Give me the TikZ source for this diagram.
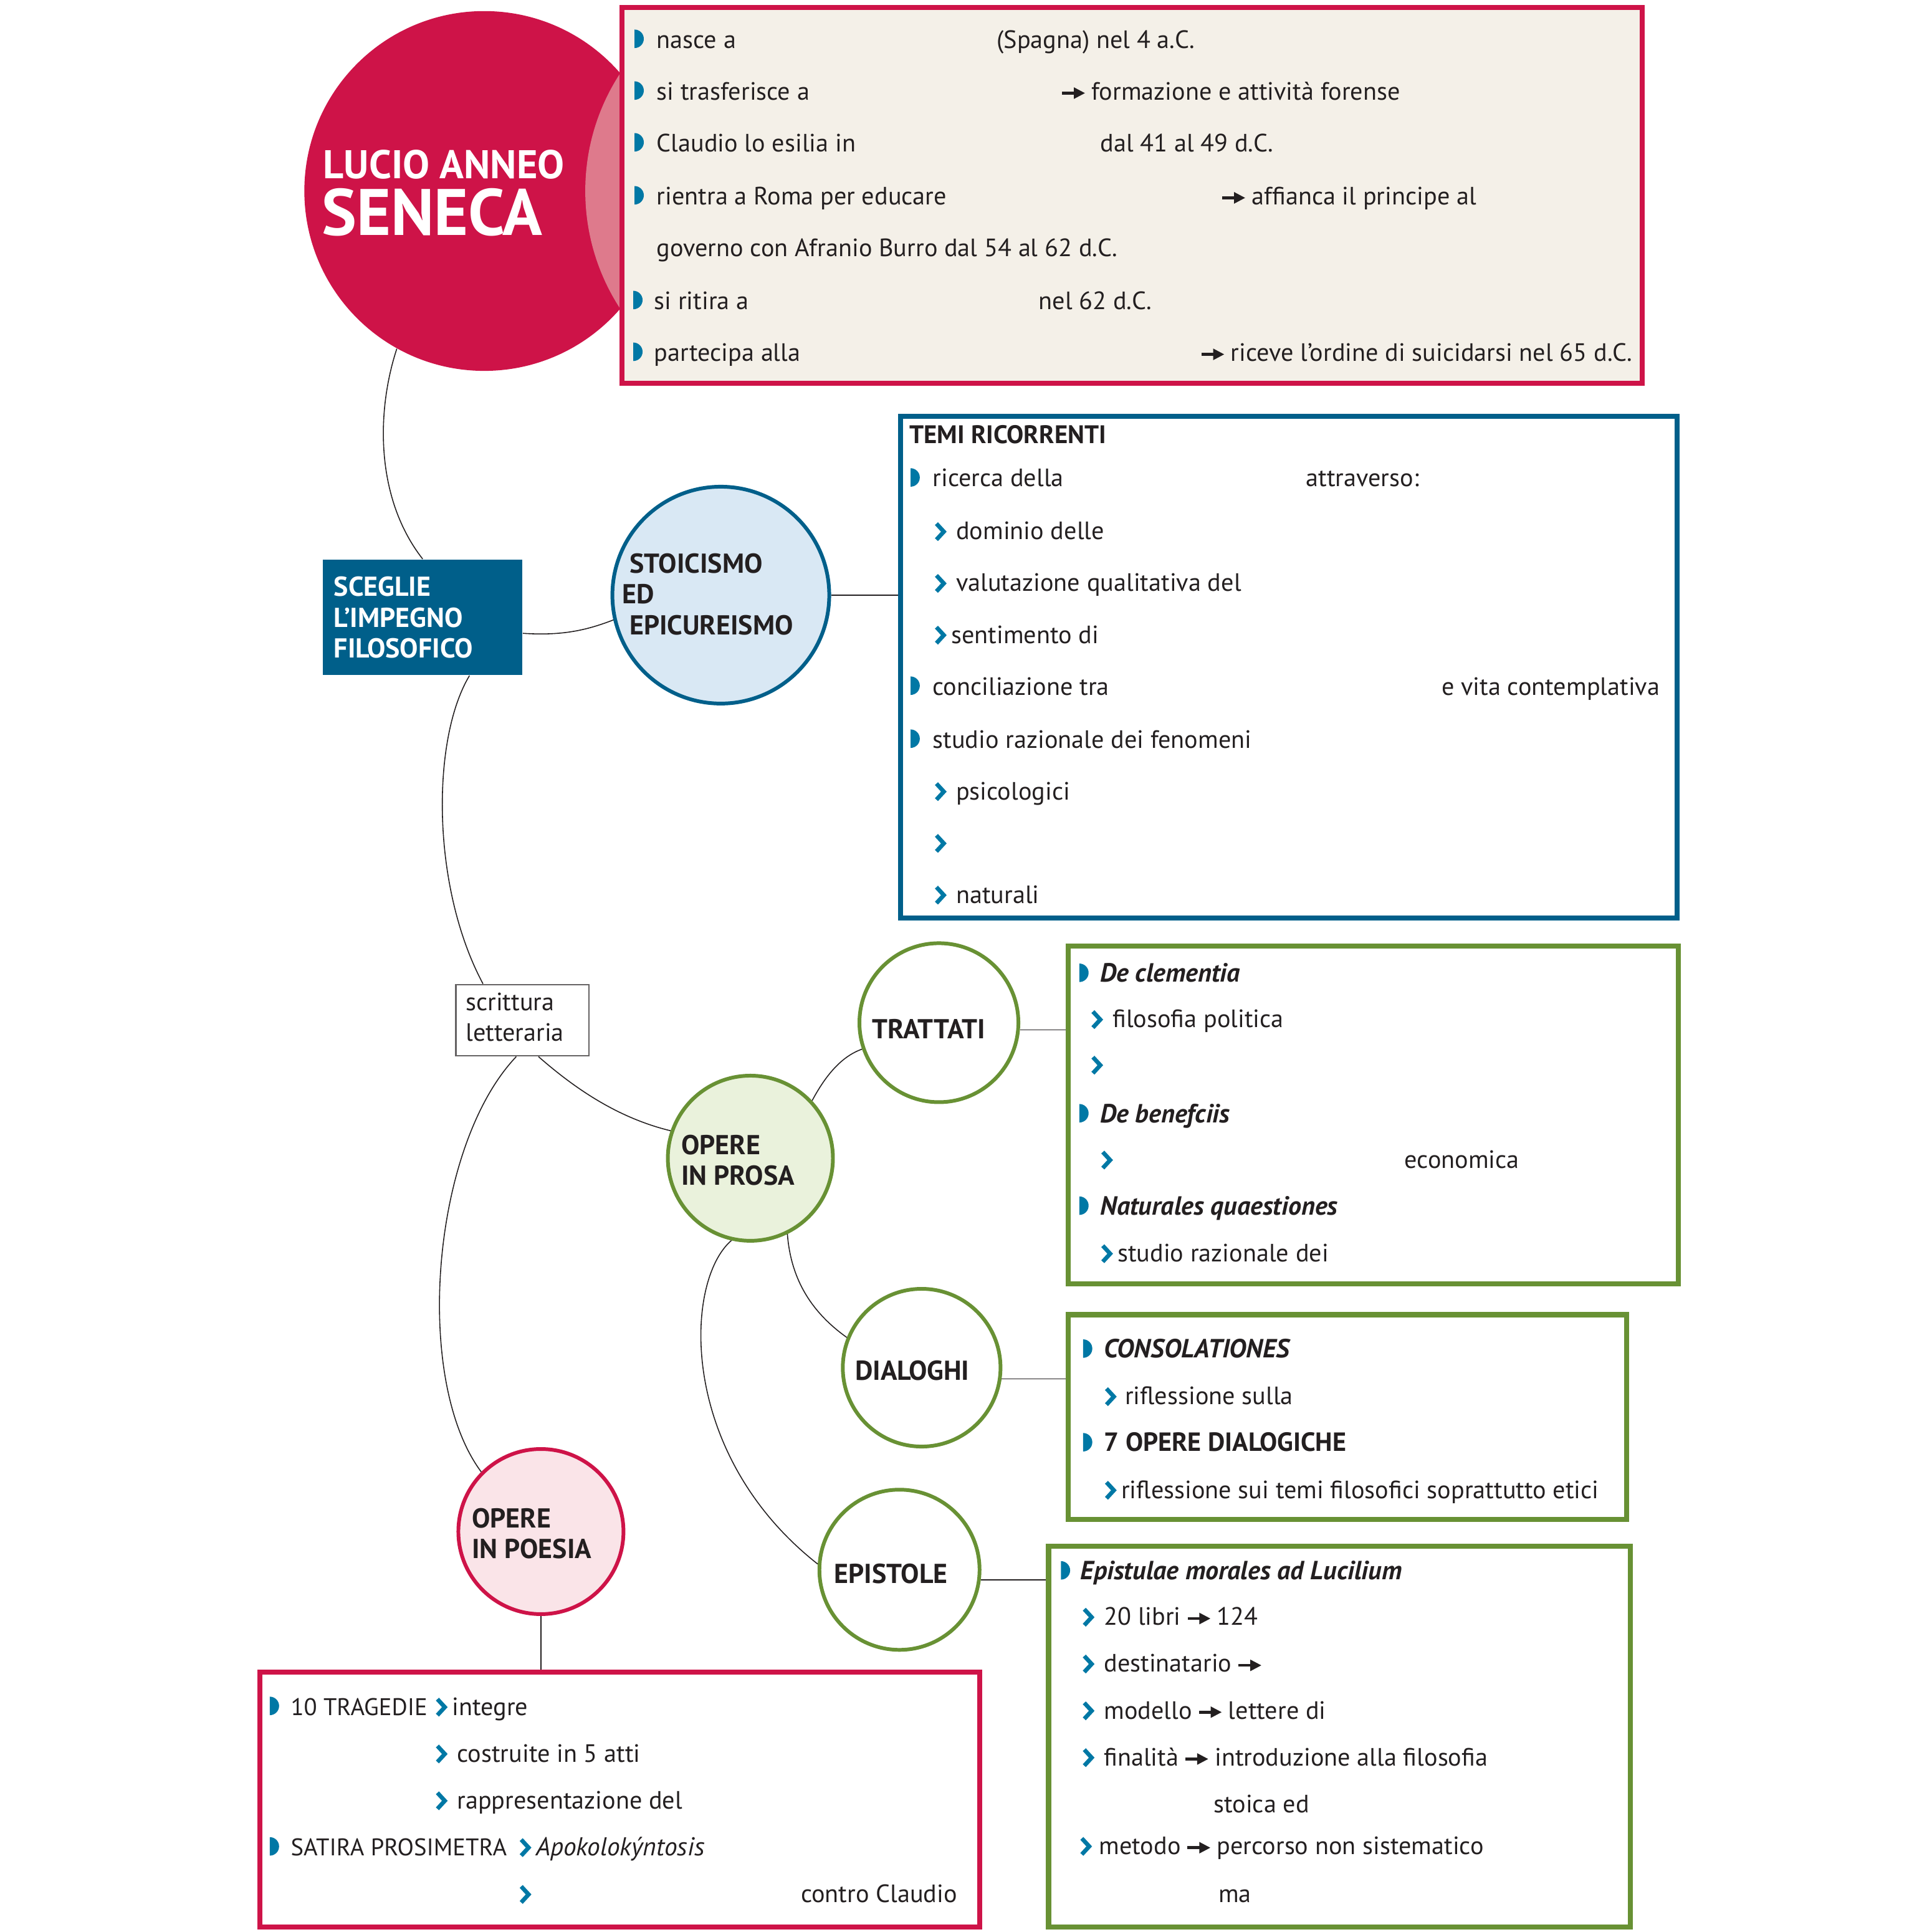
\documentclass[tikz,border=0pt]{standalone}
\usepackage{fontspec}
\setmainfont{PT Sans}
\usetikzlibrary{fit,calc}
\definecolor{crimson}{RGB}{206,19,72}
\definecolor{lens}{RGB}{222,122,140}
\definecolor{beige}{RGB}{244,240,232}
\definecolor{dblue}{RGB}{0,95,138}
\definecolor{bul}{RGB}{0,120,165}
\definecolor{lblue}{RGB}{217,232,244}
\definecolor{green}{RGB}{104,145,52}
\definecolor{lgreen}{RGB}{234,242,220}
\definecolor{lpink}{RGB}{250,228,232}
\definecolor{ink}{RGB}{35,31,32}
\def\U{0.01977cm}
\newcounter{tn}
\newcommand\mytx[4][]{\stepcounter{tn}\node[txt,#1] (t\arabic{tn}) at (#2,#3) {#4};}
\newcommand\hb[2]{\fill[bul] (#1,#2-15) arc[start angle=-90,end angle=90,x radius=7.5,y radius=7.5] -- cycle;}
\newcommand\chv[2]{\draw[bul,line width=1.9pt] (#1+1,#2-13) -- (#1+7,#2-6.5) -- (#1+1,#2);}
\newcommand\arr{\tikz[x=1pt,y=1pt,baseline=0pt]{\fill[ink] (0,2.4) rectangle (6.6,3.7); \fill[ink] (5.4,0.4) -- (10.4,3.05) -- (5.4,5.7) -- cycle;}}
\newcommand\bfb{\bfseries\fontsize{12}{14}\selectfont}
\newcommand\bfc{\bfseries\fontsize{12.5}{14}\selectfont}
\newcommand\caps{\fontsize{11}{14}\selectfont}
\begin{document}
\begin{tikzpicture}[x=0.01977cm,y=-0.01977cm,
 txt/.style={anchor=base west,inner sep=0pt,outer sep=0pt,font=\fontsize{11.45}{14}\selectfont,text=ink},
 bx/.style={inner sep=0pt,line width=2.3pt},
 circ/.style={circle,inner sep=0pt,line width=1.7pt},
 conn/.style={line width=0.45pt,draw=ink}]
\useasboundingbox (0,0) rectangle (1568,1568);

% ---------- Seneca ----------
\node[circle,inner sep=0pt,fill=crimson,minimum size=292*\U] (seneca) at (393,155) {};
\begin{scope}
\clip (393,155) circle[radius=146];
\fill[lens] (650,155) circle[radius=175];
\end{scope}
\node[bx,draw=crimson,fill=beige,fit={(505,6)(1333,311)}] (bio) {};
\node[anchor=base west,inner sep=0pt,text=white,font=\bfseries\fontsize{18.3}{19}\selectfont] (lucio) at (262,145) {LUCIO ANNEO};
\node[anchor=base west,inner sep=0pt,text=white,font=\bfseries\fontsize{30}{31}\selectfont] (senecat) at (261,191) {SENECA};

\hb{515}{39}\mytx{533}{39}{nasce a}\mytx{809}{39}{(Spagna) nel 4 a.C.}
\hb{515}{81}\mytx{533}{81}{si trasferisce a}\mytx{862}{81}{\arr\ formazione e attività forense}
\hb{515}{123}\mytx{533}{123}{Claudio lo esilia in}\mytx{893}{123}{dal 41 al 49 d.C.}
\hb{515}{166}\mytx{533}{166}{rientra a Roma per educare}\mytx{992}{166}{\arr\ affianca il principe al}
\mytx{533}{208}{governo con Afranio Burro dal 54 al 62 d.C.}
\hb{514}{251}\mytx{531}{251}{si ritira a}\mytx{843}{251}{nel 62 d.C.}
\hb{514}{293}\mytx{531}{293}{partecipa alla}\mytx{975}{293}{\arr\ riceve l’ordine di suicidarsi nel 65 d.C.}

% ---------- Sceglie ----------
\node[fill=dblue,inner sep=0pt,fit={(262,454)(424,548)}] (sceglie) {};
\mytx[text=white]{271}{484}{\bfc SCEGLIE}
\mytx[text=white]{271}{509}{\bfc L’IMPEGNO}
\mytx[text=white]{271}{534}{\bfc FILOSOFICO}

% ---------- Stoicismo ----------
\node[circ,draw=dblue,fill=lblue,minimum size=176*\U] (stoic) at (585,483) {};
\mytx{511}{465}{\bfc STOICISMO}
\mytx{505}{490}{\bfc ED}
\mytx{511}{515}{\bfc EPICUREISMO}

% ---------- Temi ----------
\node[bx,draw=dblue,fill=white,fit={(731,338)(1361,745)}] (temi) {};
\mytx{738}{360}{\bfseries\fontsize{11.6}{14}\selectfont TEMI RICORRENTI}
\hb{739}{395}\mytx{757}{395}{ricerca della}\mytx{1060}{395}{attraverso:}
\chv{759}{438}\mytx{776}{438}{dominio delle}
\chv{759}{480}\mytx{776}{480}{valutazione qualitativa del}
\chv{759}{522}\mytx{772}{522}{sentimento di}
\hb{739}{564}\mytx{757}{564}{conciliazione tra}\mytx{1170}{564}{e vita contemplativa}
\hb{739}{607}\mytx{757}{607}{studio razionale dei fenomeni}
\chv{759}{649}\mytx{776}{649}{psicologici}
\chv{759}{691}
\chv{759}{733}\mytx{776}{733}{naturali}

% ---------- scrittura ----------
\node[draw=ink!70,line width=0.6pt,fill=white,inner sep=0pt,fit={(370,799)(478,857)}] (scrit) {};
\mytx{378}{820}{scrittura}
\mytx{378}{845}{letteraria}

% ---------- prosa ----------
\node[circ,draw=green,fill=lgreen,minimum size=134*\U] (prosa) at (609,940) {};
\mytx{553}{937}{\bfc OPERE}
\mytx{553}{962}{\bfc IN PROSA}

\node[circ,draw=green,fill=white,minimum size=129*\U] (tratt) at (762,830) {};
\mytx{708}{843}{\bfc TRATTATI}
\node[circ,draw=green,fill=white,minimum size=128*\U] (dial) at (748,1110) {};
\mytx{694}{1120}{\bfc DIALOGHI}
\node[circ,draw=green,fill=white,minimum size=130*\U] (epi) at (730,1274) {};
\mytx{677}{1285}{\bfc EPISTOLE}

% ---------- trattati box ----------
\node[bx,draw=green,fill=white,fit={(867,768)(1362,1042)}] (trbox) {};
\hb{876}{797}\mytx{893}{797}{\bfb\itshape De clementia}
\chv{886}{834}\mytx{903}{834}{filosofia politica}
\chv{886}{871}
\hb{876}{911}\mytx{893}{911}{\bfb\itshape De benefciis}
\chv{894}{948}\mytx{1140}{948}{economica}
\hb{876}{986}\mytx{893}{986}{\bfb\itshape Naturales quaestiones}
\chv{894}{1024}\mytx{907}{1024}{studio razionale dei}

% ---------- dialoghi box ----------
\node[bx,draw=green,fill=white,fit={(867,1067)(1320,1233)}] (dibox) {};
\hb{879}{1102}\mytx{896}{1102}{\bfb\itshape CONSOLATIONES}
\chv{897}{1140}\mytx{913}{1140}{riflessione sulla}
\hb{879}{1178}\mytx{896}{1178}{\bfb 7 OPERE DIALOGICHE}
\chv{897}{1216}\mytx{910}{1216}{riflessione sui temi filosofici soprattutto etici}

% ---------- epistole box ----------
\node[bx,draw=green,fill=white,fit={(851,1255)(1323,1564)}] (epbox) {};
\hb{861}{1282}\mytx{877}{1282}{\bfb\itshape Epistulae morales ad Lucilium}
\chv{879}{1319}\mytx{896}{1319}{20 libri \arr\ 124}
\chv{879}{1357}\mytx{896}{1357}{destinatario \arr}
\chv{879}{1395}\mytx{896}{1395}{modello \arr\ lettere di}
\chv{879}{1433}\mytx{896}{1433}{finalità \arr\ introduzione alla filosofia}
\mytx{985}{1471}{stoica ed}
\chv{877}{1505}\mytx{892}{1505}{metodo \arr\ percorso non sistematico}
\mytx{989}{1544}{ma}

% ---------- poesia ----------
\node[circ,draw=crimson,fill=lpink,minimum size=134*\U] (poesia) at (439,1243) {};
\mytx{383}{1240}{\bfc OPERE}
\mytx{383}{1265}{\bfc IN POESIA}
\node[bx,draw=crimson,fill=white,fit={(211,1357)(795,1564)}] (pobox) {};
\hb{219}{1392}\mytx{236}{1392}{\caps 10 TRAGEDIE}\chv{354}{1392}\mytx{367}{1392}{integre}
\chv{354}{1430}\mytx{371}{1430}{costruite in 5 atti}
\chv{354}{1468}\mytx{371}{1468}{rappresentazione del}
\hb{219}{1506}\mytx{236}{1506}{\caps SATIRA PROSIMETRA}\chv{422}{1506}\mytx{435}{1506}{\fontsize{11.8}{14}\selectfont\itshape Apokolokýntosis}
\chv{422}{1544}\mytx{650}{1544}{contro Claudio}

% ---------- connectors ----------
\draw[conn] (seneca.241) .. controls (305,335) and (305,405) .. (sceglie.north);
\draw[conn] ($(sceglie.east)+(0,13)$) .. controls (455,516) and (475,512) .. (stoic.193);
\draw[conn] (stoic.east) -- (stoic.east -| temi.west);
\draw[conn] ($(sceglie.south)+(38,0)$) .. controls (350,600) and (350,720) .. ($(scrit.north)+(-32,0)$);
\draw[conn] ($(scrit.south)+(13,0)$) .. controls (465,882) and (500,907) .. (prosa.161);
\draw[conn] ($(scrit.south)+(-5,0)$) .. controls (350,930) and (335,1120) .. (poesia.135);
\draw[conn] (prosa.43) .. controls (671,871) and (684,857) .. (tratt.199);
\draw[conn] (tratt.-5) -- (tratt.-5 -| trbox.west);
\draw[conn] (prosa.-64) .. controls (642,1040) and (660,1066) .. (dial.158);
\draw[conn] (dial.-8) -- (dial.-8 -| dibox.west);
\draw[conn] (prosa.257) .. controls (555,1040) and (550,1180) .. (epi.176);
\draw[conn] (epi.-7) -- (epi.-7 -| epbox.west);
\draw[conn] (poesia.south) -- (poesia.south |- pobox.north);
\end{tikzpicture}
\end{document}
